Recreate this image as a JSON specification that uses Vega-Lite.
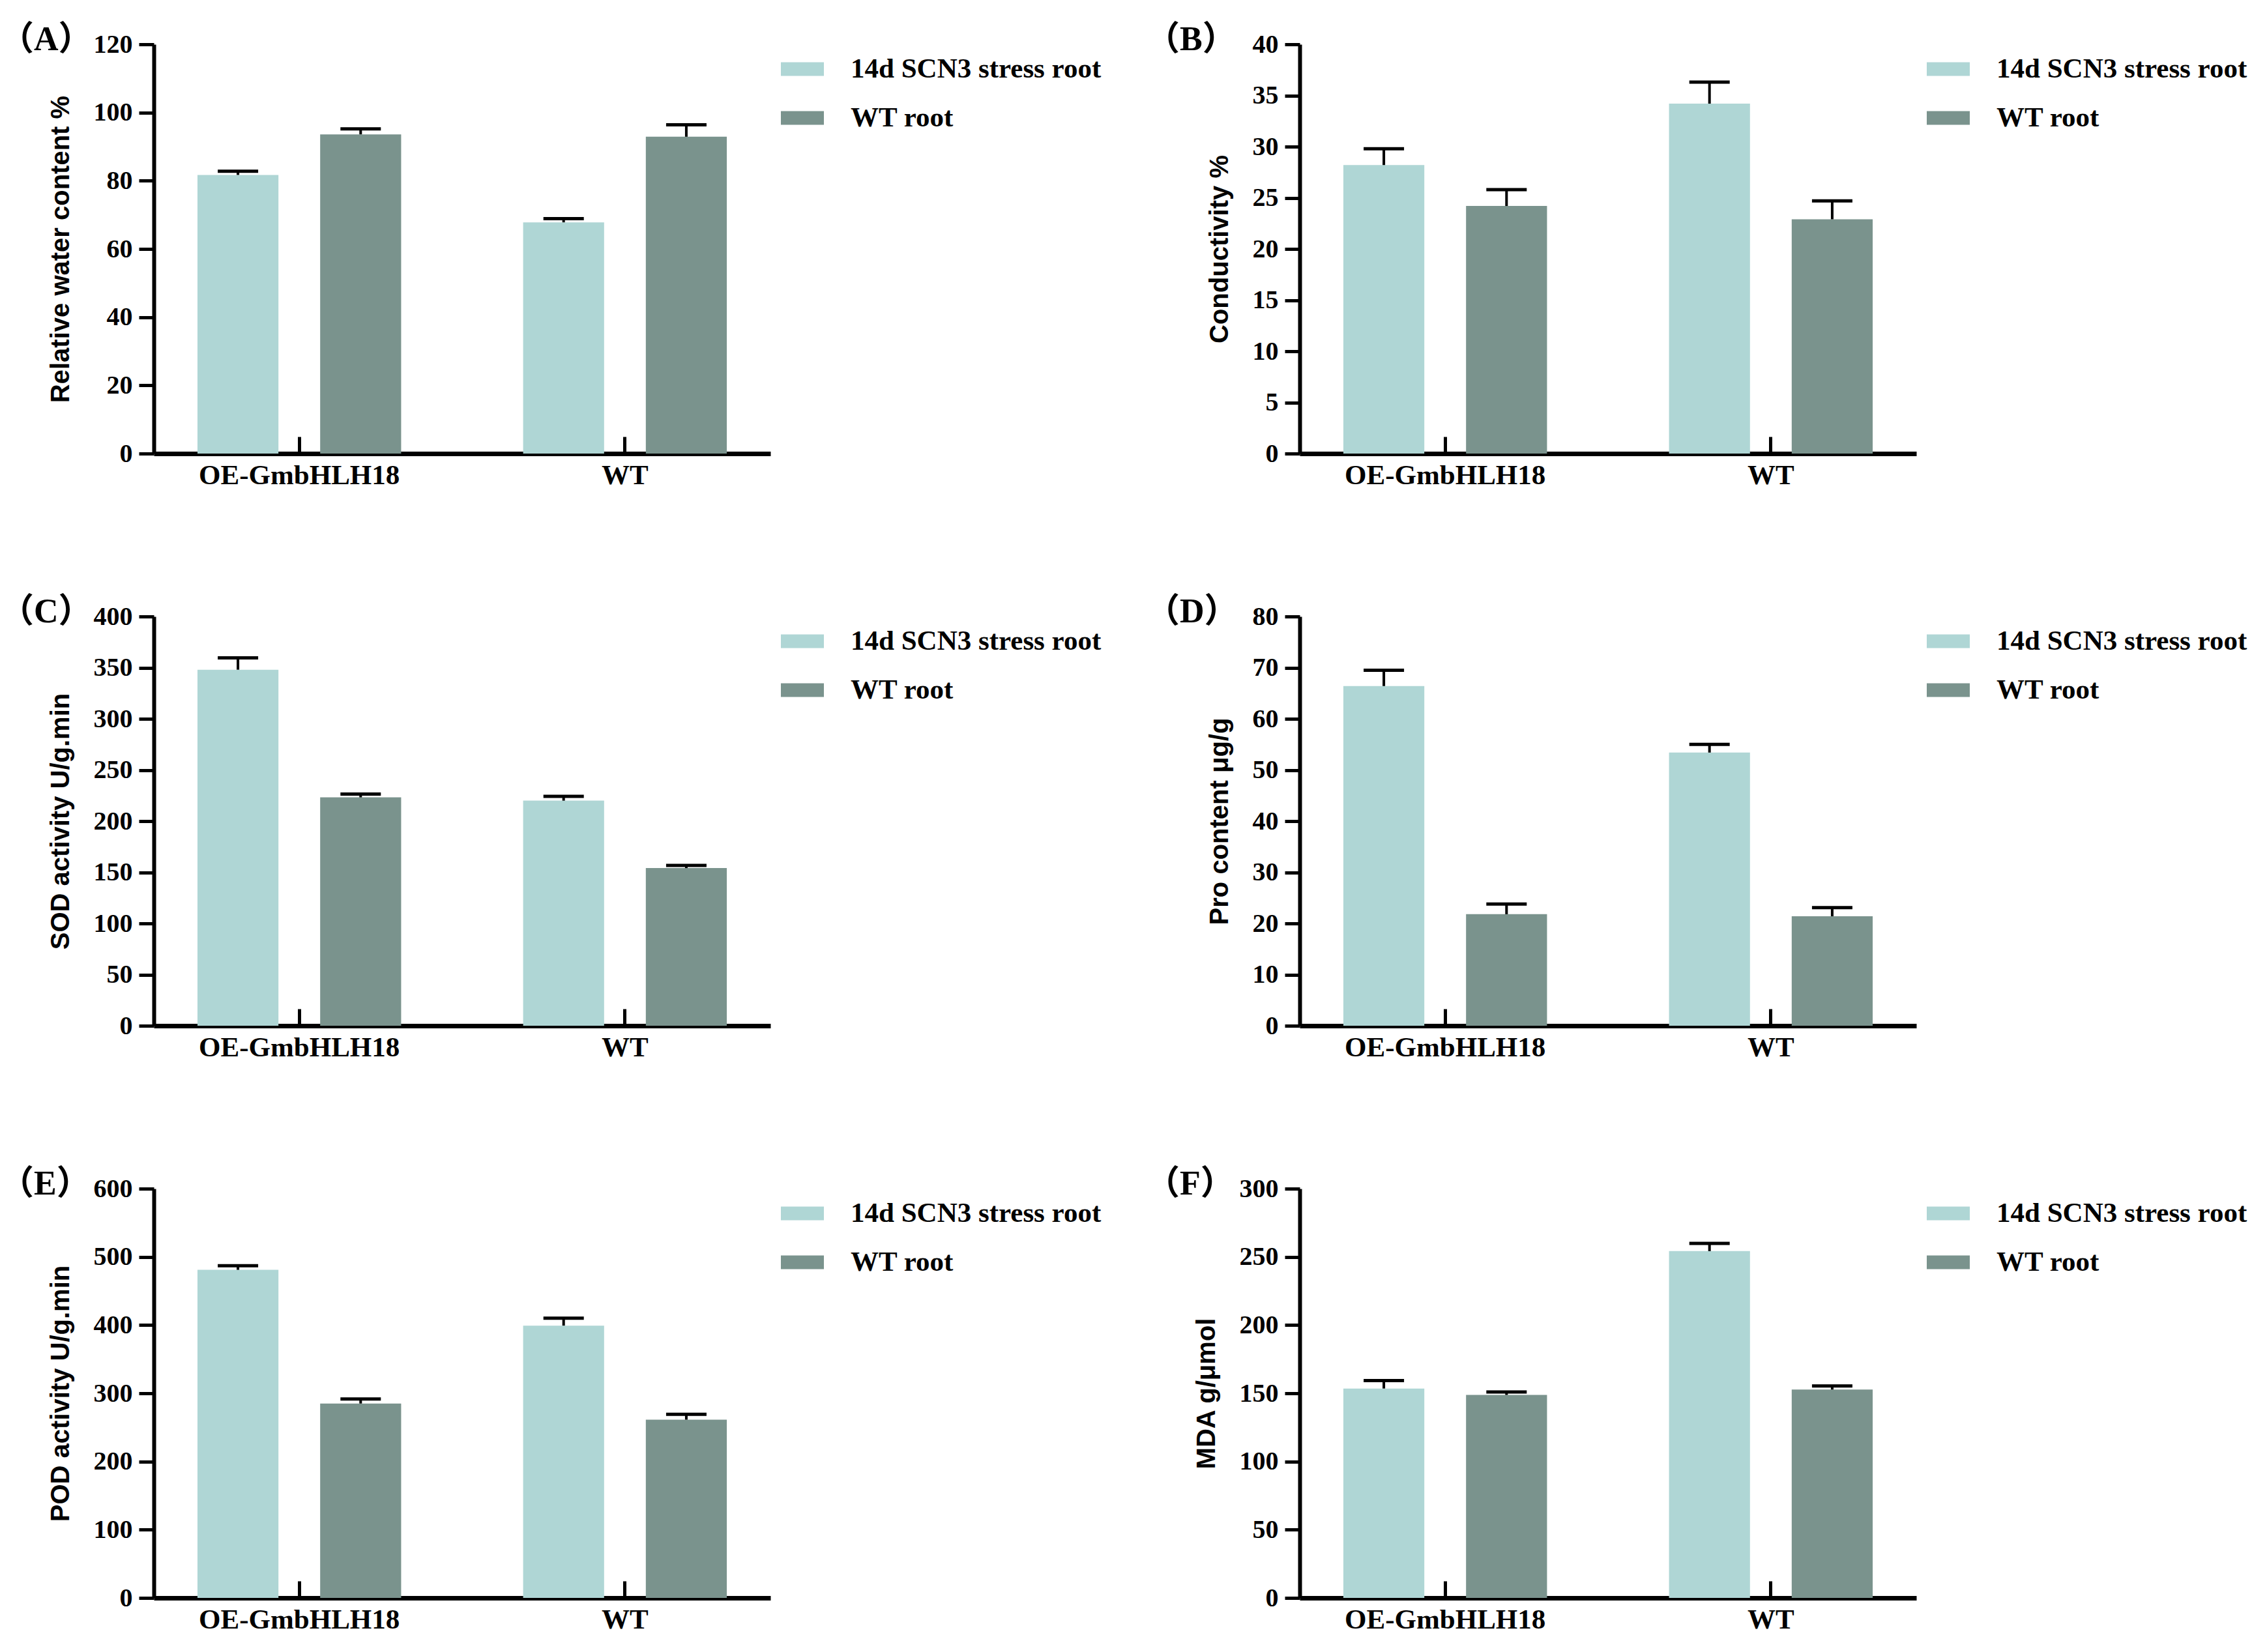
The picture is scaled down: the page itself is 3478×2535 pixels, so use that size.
{
  "$schema": "https://vega.github.io/schema/vega-lite/v6.json",
  "background": "white",
  "padding": {"left": 0, "top": 35, "right": 10, "bottom": 10},
  "columns": 2,
  "spacing": {"row": 162, "column": 68},
  "resolve": {
    "scale": {"x": "independent", "y": "independent", "xOffset": "independent", "color": "independent"},
    "legend": {"color": "independent"},
    "axis": {"x": "independent", "y": "independent"}
  },
  "datasets": {
    "A": [
      {"group": "OE-GmbHLH18", "treatment": "14d SCN3 stress root", "value": 81.7, "upper": 82.8},
      {"group": "OE-GmbHLH18", "treatment": "WT root", "value": 93.6, "upper": 95.2},
      {"group": "WT", "treatment": "14d SCN3 stress root", "value": 67.8, "upper": 68.9},
      {"group": "WT", "treatment": "WT root", "value": 92.9, "upper": 96.4}
    ],
    "B": [
      {"group": "OE-GmbHLH18", "treatment": "14d SCN3 stress root", "value": 28.2, "upper": 29.8},
      {"group": "OE-GmbHLH18", "treatment": "WT root", "value": 24.2, "upper": 25.8},
      {"group": "WT", "treatment": "14d SCN3 stress root", "value": 34.2, "upper": 36.3},
      {"group": "WT", "treatment": "WT root", "value": 22.9, "upper": 24.7}
    ],
    "C": [
      {"group": "OE-GmbHLH18", "treatment": "14d SCN3 stress root", "value": 348, "upper": 359.5},
      {"group": "OE-GmbHLH18", "treatment": "WT root", "value": 223.2, "upper": 226.4},
      {"group": "WT", "treatment": "14d SCN3 stress root", "value": 220, "upper": 224.2},
      {"group": "WT", "treatment": "WT root", "value": 154.1, "upper": 156.7}
    ],
    "D": [
      {"group": "OE-GmbHLH18", "treatment": "14d SCN3 stress root", "value": 66.4, "upper": 69.5},
      {"group": "OE-GmbHLH18", "treatment": "WT root", "value": 21.8, "upper": 23.8},
      {"group": "WT", "treatment": "14d SCN3 stress root", "value": 53.4, "upper": 55.0},
      {"group": "WT", "treatment": "WT root", "value": 21.4, "upper": 23.1}
    ],
    "E": [
      {"group": "OE-GmbHLH18", "treatment": "14d SCN3 stress root", "value": 481, "upper": 487},
      {"group": "OE-GmbHLH18", "treatment": "WT root", "value": 285, "upper": 291.6},
      {"group": "WT", "treatment": "14d SCN3 stress root", "value": 399.2, "upper": 410.1},
      {"group": "WT", "treatment": "WT root", "value": 261.3, "upper": 269.3}
    ],
    "F": [
      {"group": "OE-GmbHLH18", "treatment": "14d SCN3 stress root", "value": 153.5, "upper": 159.3},
      {"group": "OE-GmbHLH18", "treatment": "WT root", "value": 148.8, "upper": 150.9},
      {"group": "WT", "treatment": "14d SCN3 stress root", "value": 254.2, "upper": 259.9},
      {"group": "WT", "treatment": "WT root", "value": 152.7, "upper": 155.4}
    ]
  },
  "config": {
    "view": {"stroke": null},
    "axis": {"grid": false, "domainColor": "black", "tickColor": "black", "labelColor": "black", "titleColor": "black", "labelFont": "Liberation Serif", "labelFontWeight": "bold", "titleFont": "Liberation Sans", "titleFontWeight": "bold", "titleFontSize": 40},
    "axisY": {"domainWidth": 6, "tickWidth": 5, "tickSize": 23, "labelFontSize": 40, "labelPadding": 10, "titlePadding": 30},
    "axisX": {"domainWidth": 7, "tickWidth": 5, "tickSize": -26, "labelFontSize": 43, "labelPadding": 38, "labelAngle": 0, "labelLimit": 1000},
    "legend": {"orient": "none", "legendX": 962, "legendY": 5, "padding": 0, "title": null, "symbolType": "M-1,-0.32H1V0.32H-1Z", "symbolSize": 4356, "symbolStrokeWidth": 0, "symbolOpacity": 1, "labelFont": "Liberation Serif", "labelFontWeight": "bold", "labelFontSize": 43, "labelColor": "black", "labelOffset": 41, "rowPadding": 20, "labelLimit": 0},
    "title": {"font": "Liberation Serif, Noto Sans CJK SC", "fontSize": 52, "fontWeight": "bold", "color": "black", "anchor": "start", "frame": "group", "offset": 0, "baseline": "alphabetic"}
  },
  "concat": [
    {
      "data": {"name": "A"},
      "width": 946, "height": 628,
      "title": {"text": "（A）", "dx": -236, "dy": 44},
      "encoding": {
        "x": {"field": "group", "type": "nominal", "sort": ["OE-GmbHLH18", "WT"], "scale": {"paddingInner": 0.3746, "paddingOuter": 0.134}, "axis": {"title": null}},
        "xOffset": {"field": "treatment", "type": "nominal", "sort": ["14d SCN3 stress root", "WT root"], "scale": {"paddingInner": 0.34, "paddingOuter": 0}}
      },
      "layer": [
        {"mark": {"type": "bar"},
         "encoding": {
           "y": {"field": "value", "type": "quantitative", "title": "Relative water content %", "scale": {"domain": [0, 120], "nice": false}, "axis": {"values": [0, 20, 40, 60, 80, 100, 120]}},
           "color": {"field": "treatment", "type": "nominal", "scale": {"domain": ["14d SCN3 stress root", "WT root"], "range": ["#AFD6D5", "#7A938D"]}}
         }},
        {"mark": {"type": "rule", "color": "black", "strokeWidth": 4},
         "encoding": {"y": {"field": "value", "type": "quantitative", "title": "Relative water content %"}, "y2": {"field": "upper"}}},
        {"mark": {"type": "tick", "color": "black", "size": 62, "thickness": 5, "opacity": 1},
         "encoding": {"y": {"field": "upper", "type": "quantitative", "title": "Relative water content %"}}}
      ]
    },
    {
      "data": {"name": "B"},
      "width": 946, "height": 628,
      "title": {"text": "（B）", "dx": -236, "dy": 44},
      "encoding": {
        "x": {"field": "group", "type": "nominal", "sort": ["OE-GmbHLH18", "WT"], "scale": {"paddingInner": 0.3746, "paddingOuter": 0.134}, "axis": {"title": null}},
        "xOffset": {"field": "treatment", "type": "nominal", "sort": ["14d SCN3 stress root", "WT root"], "scale": {"paddingInner": 0.34, "paddingOuter": 0}}
      },
      "layer": [
        {"mark": {"type": "bar"},
         "encoding": {
           "y": {"field": "value", "type": "quantitative", "title": "Conductivity %", "scale": {"domain": [0, 40], "nice": false}, "axis": {"values": [0, 5, 10, 15, 20, 25, 30, 35, 40]}},
           "color": {"field": "treatment", "type": "nominal", "scale": {"domain": ["14d SCN3 stress root", "WT root"], "range": ["#AFD6D5", "#7A938D"]}}
         }},
        {"mark": {"type": "rule", "color": "black", "strokeWidth": 4},
         "encoding": {"y": {"field": "value", "type": "quantitative", "title": "Conductivity %"}, "y2": {"field": "upper"}}},
        {"mark": {"type": "tick", "color": "black", "size": 62, "thickness": 5, "opacity": 1},
         "encoding": {"y": {"field": "upper", "type": "quantitative", "title": "Conductivity %"}}}
      ]
    },
    {
      "data": {"name": "C"},
      "width": 946, "height": 628,
      "title": {"text": "（C）", "dx": -236, "dy": 44},
      "encoding": {
        "x": {"field": "group", "type": "nominal", "sort": ["OE-GmbHLH18", "WT"], "scale": {"paddingInner": 0.3746, "paddingOuter": 0.134}, "axis": {"title": null}},
        "xOffset": {"field": "treatment", "type": "nominal", "sort": ["14d SCN3 stress root", "WT root"], "scale": {"paddingInner": 0.34, "paddingOuter": 0}}
      },
      "layer": [
        {"mark": {"type": "bar"},
         "encoding": {
           "y": {"field": "value", "type": "quantitative", "title": "SOD activity U/g.min", "scale": {"domain": [0, 400], "nice": false}, "axis": {"values": [0, 50, 100, 150, 200, 250, 300, 350, 400]}},
           "color": {"field": "treatment", "type": "nominal", "scale": {"domain": ["14d SCN3 stress root", "WT root"], "range": ["#AFD6D5", "#7A938D"]}}
         }},
        {"mark": {"type": "rule", "color": "black", "strokeWidth": 4},
         "encoding": {"y": {"field": "value", "type": "quantitative", "title": "SOD activity U/g.min"}, "y2": {"field": "upper"}}},
        {"mark": {"type": "tick", "color": "black", "size": 62, "thickness": 5, "opacity": 1},
         "encoding": {"y": {"field": "upper", "type": "quantitative", "title": "SOD activity U/g.min"}}}
      ]
    },
    {
      "data": {"name": "D"},
      "width": 946, "height": 628,
      "title": {"text": "（D）", "dx": -236, "dy": 44},
      "encoding": {
        "x": {"field": "group", "type": "nominal", "sort": ["OE-GmbHLH18", "WT"], "scale": {"paddingInner": 0.3746, "paddingOuter": 0.134}, "axis": {"title": null}},
        "xOffset": {"field": "treatment", "type": "nominal", "sort": ["14d SCN3 stress root", "WT root"], "scale": {"paddingInner": 0.34, "paddingOuter": 0}}
      },
      "layer": [
        {"mark": {"type": "bar"},
         "encoding": {
           "y": {"field": "value", "type": "quantitative", "title": "Pro content μg/g", "scale": {"domain": [0, 80], "nice": false}, "axis": {"values": [0, 10, 20, 30, 40, 50, 60, 70, 80]}},
           "color": {"field": "treatment", "type": "nominal", "scale": {"domain": ["14d SCN3 stress root", "WT root"], "range": ["#AFD6D5", "#7A938D"]}}
         }},
        {"mark": {"type": "rule", "color": "black", "strokeWidth": 4},
         "encoding": {"y": {"field": "value", "type": "quantitative", "title": "Pro content μg/g"}, "y2": {"field": "upper"}}},
        {"mark": {"type": "tick", "color": "black", "size": 62, "thickness": 5, "opacity": 1},
         "encoding": {"y": {"field": "upper", "type": "quantitative", "title": "Pro content μg/g"}}}
      ]
    },
    {
      "data": {"name": "E"},
      "width": 946, "height": 628,
      "title": {"text": "（E）", "dx": -236, "dy": 44},
      "encoding": {
        "x": {"field": "group", "type": "nominal", "sort": ["OE-GmbHLH18", "WT"], "scale": {"paddingInner": 0.3746, "paddingOuter": 0.134}, "axis": {"title": null}},
        "xOffset": {"field": "treatment", "type": "nominal", "sort": ["14d SCN3 stress root", "WT root"], "scale": {"paddingInner": 0.34, "paddingOuter": 0}}
      },
      "layer": [
        {"mark": {"type": "bar"},
         "encoding": {
           "y": {"field": "value", "type": "quantitative", "title": "POD activity U/g.min", "scale": {"domain": [0, 600], "nice": false}, "axis": {"values": [0, 100, 200, 300, 400, 500, 600]}},
           "color": {"field": "treatment", "type": "nominal", "scale": {"domain": ["14d SCN3 stress root", "WT root"], "range": ["#AFD6D5", "#7A938D"]}}
         }},
        {"mark": {"type": "rule", "color": "black", "strokeWidth": 4},
         "encoding": {"y": {"field": "value", "type": "quantitative", "title": "POD activity U/g.min"}, "y2": {"field": "upper"}}},
        {"mark": {"type": "tick", "color": "black", "size": 62, "thickness": 5, "opacity": 1},
         "encoding": {"y": {"field": "upper", "type": "quantitative", "title": "POD activity U/g.min"}}}
      ]
    },
    {
      "data": {"name": "F"},
      "width": 946, "height": 628,
      "title": {"text": "（F）", "dx": -236, "dy": 44},
      "encoding": {
        "x": {"field": "group", "type": "nominal", "sort": ["OE-GmbHLH18", "WT"], "scale": {"paddingInner": 0.3746, "paddingOuter": 0.134}, "axis": {"title": null}},
        "xOffset": {"field": "treatment", "type": "nominal", "sort": ["14d SCN3 stress root", "WT root"], "scale": {"paddingInner": 0.34, "paddingOuter": 0}}
      },
      "layer": [
        {"mark": {"type": "bar"},
         "encoding": {
           "y": {"field": "value", "type": "quantitative", "title": "MDA g/μmol", "scale": {"domain": [0, 300], "nice": false}, "axis": {"values": [0, 50, 100, 150, 200, 250, 300]}},
           "color": {"field": "treatment", "type": "nominal", "scale": {"domain": ["14d SCN3 stress root", "WT root"], "range": ["#AFD6D5", "#7A938D"]}}
         }},
        {"mark": {"type": "rule", "color": "black", "strokeWidth": 4},
         "encoding": {"y": {"field": "value", "type": "quantitative", "title": "MDA g/μmol"}, "y2": {"field": "upper"}}},
        {"mark": {"type": "tick", "color": "black", "size": 62, "thickness": 5, "opacity": 1},
         "encoding": {"y": {"field": "upper", "type": "quantitative", "title": "MDA g/μmol"}}}
      ]
    }
  ]
}
